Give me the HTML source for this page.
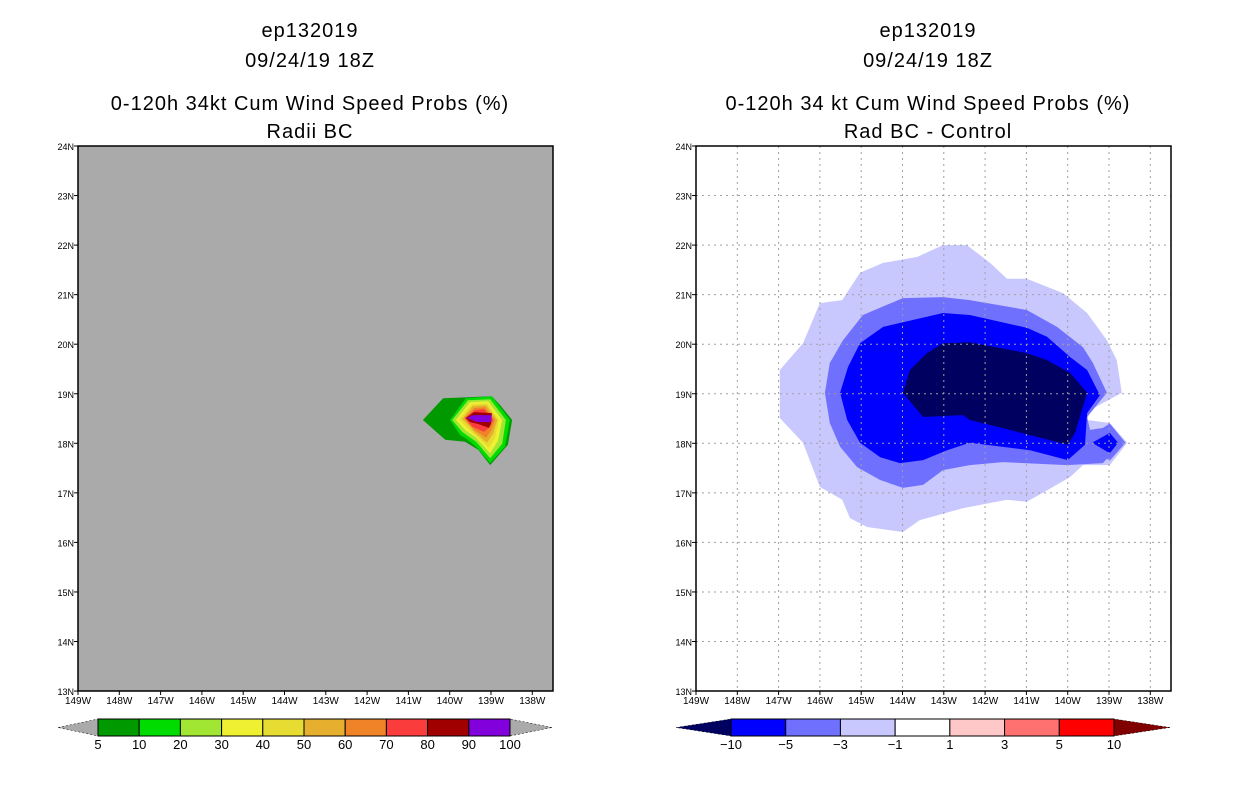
<!DOCTYPE html>
<html><head><meta charset="utf-8"><style>
body{margin:0;background:#fff;}
svg{display:block;font-family:"Liberation Sans",sans-serif;}
</style></head><body>
<svg id="chart" width="1236" height="800" viewBox="0 0 1236 800">
<rect width="1236" height="800" fill="#fff"/>
<g id="titles" font-size="20" text-anchor="middle" fill="#000" letter-spacing="1">
<text x="310" y="37">ep132019</text>
<text x="310" y="67">09/24/19 18Z</text>
<text x="310" y="110">0-120h 34kt Cum Wind Speed Probs (%)</text>
<text x="310" y="138">Radii BC</text>
<text x="928" y="37">ep132019</text>
<text x="928" y="67">09/24/19 18Z</text>
<text x="928" y="110">0-120h 34 kt Cum Wind Speed Probs (%)</text>
<text x="928" y="138">Rad BC - Control</text>
</g>
<g id="left"></g>
<g id="right"></g>
</svg>
<script>
const lonTicks=[149,148,147,146,145,144,143,142,141,140,139,138];
const latTicks=[13,14,15,16,17,18,19,20,21,22,23,24];
// left plot probability contours (lon, lat pairs)
const leftLevels=[5,10,20,30,40,50,60,70,80,90,100];
const leftColors=["#009900","#00dc00","#a0e632","#f0f032","#e6dc32","#e6af2d","#f08228","#fa3c3c","#a00000","#8200dc"];
const leftPolys=[
[[-140.65,18.47],[-140.16,18.91],[-138.98,18.95],[-138.78,18.77],[-138.49,18.47],[-138.59,17.97],[-139.02,17.56],[-139.31,17.87],[-139.63,18.03],[-140.11,18.07]],
[[-139.99,18.47],[-139.61,18.91],[-138.98,18.95],[-138.54,18.47],[-138.66,17.93],[-139.02,17.60],[-139.34,17.91],[-139.56,18.07],[-139.75,18.17]],
[[-139.94,18.47],[-139.56,18.87],[-139.02,18.89],[-138.64,18.47],[-138.73,17.99],[-139.02,17.70],[-139.36,18.03],[-139.70,18.23]],
[[-139.85,18.47],[-139.51,18.83],[-139.07,18.85],[-138.73,18.47],[-138.83,18.05],[-139.02,17.80],[-139.36,18.11],[-139.63,18.27]],
[[-139.77,18.49],[-139.46,18.79],[-139.10,18.81],[-138.81,18.47],[-138.90,18.11],[-139.05,17.91],[-139.39,18.17],[-139.58,18.31]],
[[-139.70,18.49],[-139.44,18.75],[-139.12,18.77],[-138.85,18.47],[-138.95,18.19],[-139.10,18.01],[-139.41,18.23],[-139.53,18.35]],
[[-139.65,18.51],[-139.41,18.71],[-139.15,18.73],[-138.90,18.47],[-139.00,18.25],[-139.12,18.11],[-139.41,18.27],[-139.51,18.37]],
[[-139.63,18.51],[-139.39,18.67],[-139.17,18.69],[-138.95,18.47],[-139.05,18.31],[-139.17,18.23],[-139.44,18.33],[-139.51,18.39]],
[[-139.61,18.51],[-139.41,18.63],[-138.98,18.61],[-139.00,18.39],[-139.05,18.31],[-139.31,18.39],[-139.51,18.43]],
[[-139.58,18.51],[-139.44,18.57],[-138.98,18.57],[-139.00,18.43],[-139.34,18.43]]
];
// right plot difference contours
const rightLevels=[-10,-5,-3,-1,1,3,5,10];
const rightColors=["#000060","#0000ff","#7070ff","#c8c8ff","#ffffff","#ffc8c8","#ff7070","#ff0000"];
const diffLight=[[-146.97,19.48],[-146.97,18.51],[-146.41,18.01],[-146.0,17.12],[-145.46,16.86],[-145.27,16.49],[-144.86,16.31],[-143.99,16.21],[-143.58,16.45],[-142.54,16.69],[-141.47,16.86],[-140.99,16.82],[-140.6,17.0],[-139.94,17.32],[-139.63,17.56],[-138.98,17.56],[-138.56,18.01],[-138.98,18.41],[-139.53,18.47],[-139.46,18.67],[-138.69,19.02],[-138.81,19.68],[-139.05,20.08],[-139.53,20.63],[-140.11,21.03],[-140.99,21.32],[-141.47,21.32],[-141.88,21.64],[-142.44,22.0],[-143.02,22.0],[-143.65,21.76],[-144.47,21.64],[-145.03,21.44],[-145.46,20.89],[-146.0,20.83],[-146.41,20.02]];
const diffMed=[[-145.88,19.02],[-145.76,18.41],[-145.51,17.93],[-145.1,17.52],[-144.54,17.26],[-143.99,17.10],[-143.5,17.16],[-143.02,17.46],[-142.37,17.56],[-141.57,17.62],[-140.02,17.56],[-139.15,17.60],[-138.69,18.01],[-138.98,18.33],[-139.46,18.27],[-139.53,18.53],[-139.05,19.02],[-139.39,19.62],[-139.63,19.94],[-140.26,20.35],[-140.99,20.69],[-142.37,20.89],[-143.02,20.95],[-143.99,20.93],[-144.96,20.59],[-145.44,20.08],[-145.76,19.62]];
const diffMedIsle=[[-139.7,18.01],[-138.98,18.4],[-138.6,18.01],[-138.98,17.65]];
const diffBlue=[[-145.51,19.02],[-145.34,18.47],[-145.03,18.01],[-144.54,17.72],[-144.06,17.60],[-143.5,17.66],[-142.92,17.86],[-142.37,18.01],[-140.91,17.86],[-140.0,17.66],[-139.58,17.97],[-139.53,18.61],[-139.22,18.97],[-139.53,19.48],[-139.94,19.74],[-140.5,20.15],[-140.99,20.33],[-142.37,20.59],[-143.02,20.63],[-144.47,20.35],[-145.03,20.02],[-145.32,19.54]];
const diffBlueIsle=[[-139.41,18.01],[-138.98,18.21],[-138.78,18.01],[-138.98,17.80]];
const diffNavy=[[-143.99,19.02],[-143.5,18.53],[-142.54,18.57],[-142.37,18.47],[-141.4,18.27],[-140.0,17.97],[-139.82,18.21],[-139.53,19.02],[-139.94,19.42],[-140.5,19.68],[-140.99,19.82],[-142.37,20.04],[-143.02,20.02],[-143.41,19.82],[-143.82,19.48]];

const NS="http://www.w3.org/2000/svg";
function mk(tag,attrs,parent){const e=document.createElementNS(NS,tag);for(const k in attrs)e.setAttribute(k,attrs[k]);parent.appendChild(e);return e;}
function makePanel(g,x0,withGrid,bg){
  const W=475,H=545,y0=146;
  const xs=lon=>x0+(lon+149)*41.3;       // lon negative = W
  const ys=lat=>y0+(24-lat)*49.55;
  const bgR=mk('rect',{x:x0,y:y0,width:W,height:H,fill:bg},g);
  
  
  return {xs,ys,x0,y0,W,H};
}
function poly(g,pts,ax,fill,name){
  const p=mk('polygon',{points:pts.map(q=>ax.xs(q[0]).toFixed(1)+','+ax.ys(q[1]).toFixed(1)).join(' '),fill:fill},g);
  
  
}
function axes(g,ax,grid){
  if(grid){
    lonTicks.forEach(l=>{if(l===149)return;const x=ax.xs(-l);const ln=mk('line',{x1:x,y1:ax.y0,x2:x,y2:ax.y0+ax.H,stroke:'#a0a0a0','stroke-dasharray':'2,4'},g);
      });
    latTicks.forEach(l=>{if(l===13||l===24)return;const y=ax.ys(l);const ln=mk('line',{x1:ax.x0,y1:y,x2:ax.x0+ax.W,y2:y,stroke:'#a0a0a0','stroke-dasharray':'2,4'},g);
      });
  }
  const fr=mk('rect',{x:ax.x0,y:ax.y0,width:ax.W,height:ax.H,fill:'none',stroke:'#000','stroke-width':1.5},g);
  
  lonTicks.forEach(l=>{const x=ax.xs(-l);
    mk('line',{x1:x,y1:ax.y0+ax.H,x2:x,y2:ax.y0+ax.H+4,stroke:'#000'},g);
    const t=mk('text',{x:x,y:ax.y0+ax.H+13,'font-size':10,'text-anchor':'middle'},g);t.textContent=l+'W';
    });
  latTicks.forEach(l=>{const y=ax.ys(l);
    mk('line',{x1:ax.x0-4,y1:y,x2:ax.x0,y2:y,stroke:'#000'},g);
    const t=mk('text',{x:ax.x0-4,y:y+4,'font-size':9,'text-anchor':'end'},g);t.textContent=l+'N';
    });
}
function colorbar(g,x1,x2,triL,triR,colors,leftTri,rightTri,labels){
  const y=719,h=17,n=colors.length,w=(x2-x1)/n;
  const a=mk('polygon',{points:`${triL},${y+h/2} ${x1},${y} ${x1},${y+h}`,fill:leftTri,stroke:'#000','stroke-width':0.5,'stroke-dasharray':'2,2'},g);
  
  const b=mk('polygon',{points:`${triR},${y+h/2} ${x2},${y} ${x2},${y+h}`,fill:rightTri,stroke:'#000','stroke-width':0.5,'stroke-dasharray':'2,2'},g);
  
  colors.forEach((c,i)=>{const r=mk('rect',{x:x1+i*w,y:y,width:w,height:h,fill:c,stroke:'#000','stroke-width':1},g);
    });
  labels.forEach((lb,i)=>{const t=mk('text',{x:x1+i*w,y:y+h+13,'font-size':13,'text-anchor':'middle'},g);t.textContent=lb;
    });
}
// left
const gl=document.getElementById('left');
const axL=makePanel(gl,78,false,'#aaaaaa');
leftPolys.forEach((p,i)=>poly(gl,p,axL,leftColors[i],'prob-contour-'+leftLevels[i]));
axes(gl,axL,false);
colorbar(gl,98,510,58,552,leftColors,'#aaaaaa','#aaaaaa',leftLevels.map(String));
// right
const gr=document.getElementById('right');
const axR=makePanel(gr,696,true,'#ffffff');
poly(gr,diffLight,axR,rightColors[3],'diff-contour-minus1');
poly(gr,diffMed,axR,rightColors[2],'diff-contour-minus3');
poly(gr,diffMedIsle,axR,rightColors[2],'diff-contour-minus3-island');
poly(gr,diffBlue,axR,rightColors[1],'diff-contour-minus5');
poly(gr,diffBlueIsle,axR,rightColors[1],'diff-contour-minus5-island');
poly(gr,diffNavy,axR,rightColors[0],'diff-contour-minus10');
axes(gr,axR,true);
colorbar(gr,731,1114,676,1170,rightColors.slice(1),'#000060','#800000',rightLevels.map(v=>v<0?'\u2212'+(-v):String(v)));
</script>
</body></html>
